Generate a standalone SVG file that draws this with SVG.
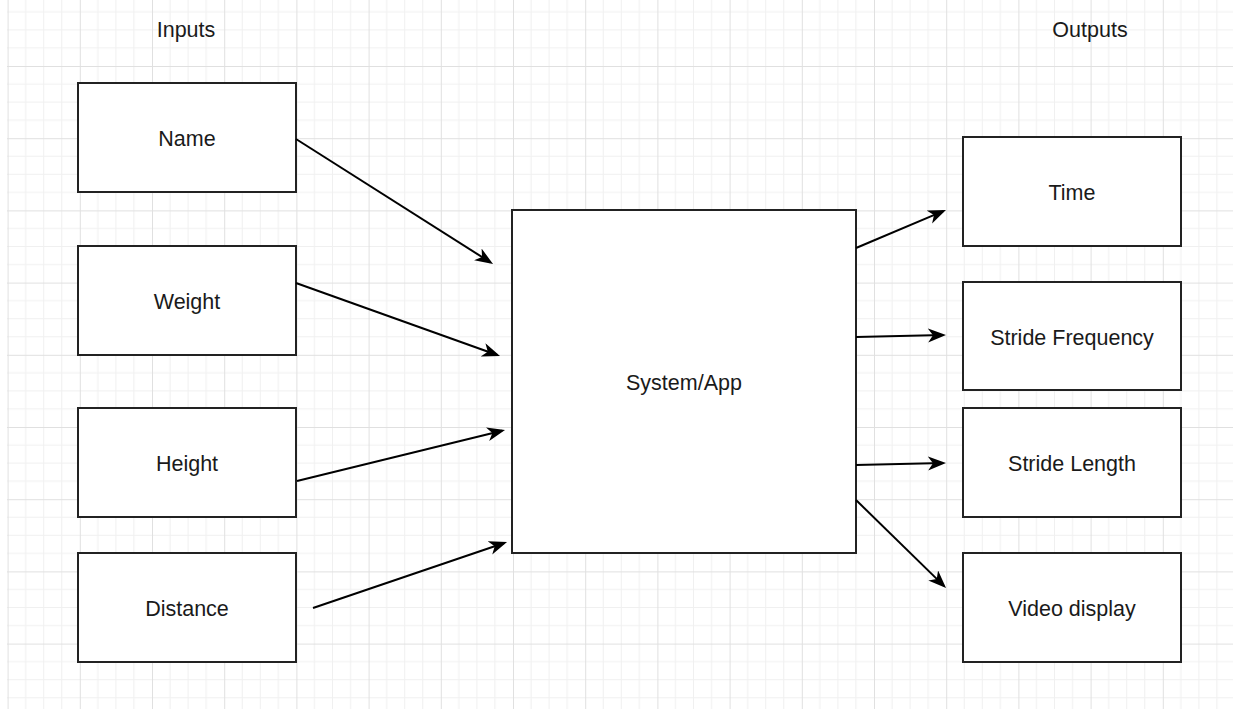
<svg xmlns="http://www.w3.org/2000/svg" width="1233" height="709" viewBox="0 0 1233 709">
  <defs>
    <!-- background grid: 4 minor cells per major cell -->
    <pattern id="grid" patternUnits="userSpaceOnUse" x="7.6" y="-6.2" width="72.2" height="72.2">
      <g stroke="#f0f0f0" stroke-width="1">
        <line x1="18.05" y1="0" x2="18.05" y2="72.2"/>
        <line x1="36.1" y1="0" x2="36.1" y2="72.2"/>
        <line x1="54.15" y1="0" x2="54.15" y2="72.2"/>
        <line x1="0" y1="18.05" x2="72.2" y2="18.05"/>
        <line x1="0" y1="36.1" x2="72.2" y2="36.1"/>
        <line x1="0" y1="54.15" x2="72.2" y2="54.15"/>
      </g>
      <g stroke="#e0e0e0" stroke-width="1">
        <line x1="0.5" y1="0" x2="0.5" y2="72.2"/>
        <line x1="0" y1="0.5" x2="72.2" y2="0.5"/>
      </g>
    </pattern>
    <marker id="arrow" markerUnits="userSpaceOnUse" markerWidth="22" markerHeight="16" refX="15" refY="7" orient="auto">
      <path d="M0,0 L18,7 L0,14 L5,7 Z" fill="#000"/>
    </marker>
  </defs>
  <style>
    .box { fill: #fff; stroke: #222; stroke-width: 2; }
    .label { font-family: "Liberation Sans", Arial, sans-serif; font-size: 21.5px; fill: #1a1a1a; text-anchor: middle; dominant-baseline: central; }
    .conn { stroke: #000; stroke-width: 2; fill: none; marker-end: url(#arrow); }
  </style>

  <rect x="0" y="0" width="1233" height="709" fill="#fff"/>
  <rect x="7" y="0" width="1226" height="709" fill="url(#grid)"/>

  <!-- column headings -->
  <text class="label" x="186" y="30">Inputs</text>
  <text class="label" x="1090" y="30">Outputs</text>

  <!-- inputs -->
  <g id="name">
    <rect class="box" x="78" y="83" width="218" height="109"/>
    <text class="label" x="187" y="139">Name</text>
  </g>
  <g id="weight">
    <rect class="box" x="78" y="246" width="218" height="109"/>
    <text class="label" x="187" y="302">Weight</text>
  </g>
  <g id="height">
    <rect class="box" x="78" y="408" width="218" height="109"/>
    <text class="label" x="187" y="464">Height</text>
  </g>
  <g id="distance">
    <rect class="box" x="78" y="553" width="218" height="109"/>
    <text class="label" x="187" y="609">Distance</text>
  </g>

  <!-- central system -->
  <g id="system">
    <rect class="box" x="512" y="210" width="344" height="343"/>
    <text class="label" x="684" y="383">System/App</text>
  </g>

  <!-- outputs -->
  <g id="time">
    <rect class="box" x="963" y="137" width="218" height="109"/>
    <text class="label" x="1072" y="193">Time</text>
  </g>
  <g id="stride-frequency">
    <rect class="box" x="963" y="282" width="218" height="108"/>
    <text class="label" x="1072" y="338">Stride Frequency</text>
  </g>
  <g id="stride-length">
    <rect class="box" x="963" y="408" width="218" height="109"/>
    <text class="label" x="1072" y="464">Stride Length</text>
  </g>
  <g id="video-display">
    <rect class="box" x="963" y="553" width="218" height="109"/>
    <text class="label" x="1072" y="609">Video display</text>
  </g>

  <!-- connectors -->
  <g id="connectors">
    <line class="conn" x1="296" y1="139" x2="490.5" y2="262.4"/>
    <line class="conn" x1="296" y1="283" x2="497.2" y2="355"/>
    <line class="conn" x1="297" y1="481" x2="502.1" y2="430.7"/>
    <line class="conn" x1="313" y1="608" x2="504.2" y2="543"/>
    <line class="conn" x1="856" y1="248" x2="943.2" y2="211.2"/>
    <line class="conn" x1="856" y1="337" x2="943" y2="335.1"/>
    <line class="conn" x1="856" y1="465" x2="943" y2="463.1"/>
    <line class="conn" x1="856" y1="500" x2="943.9" y2="585.9"/>
  </g>
</svg>
